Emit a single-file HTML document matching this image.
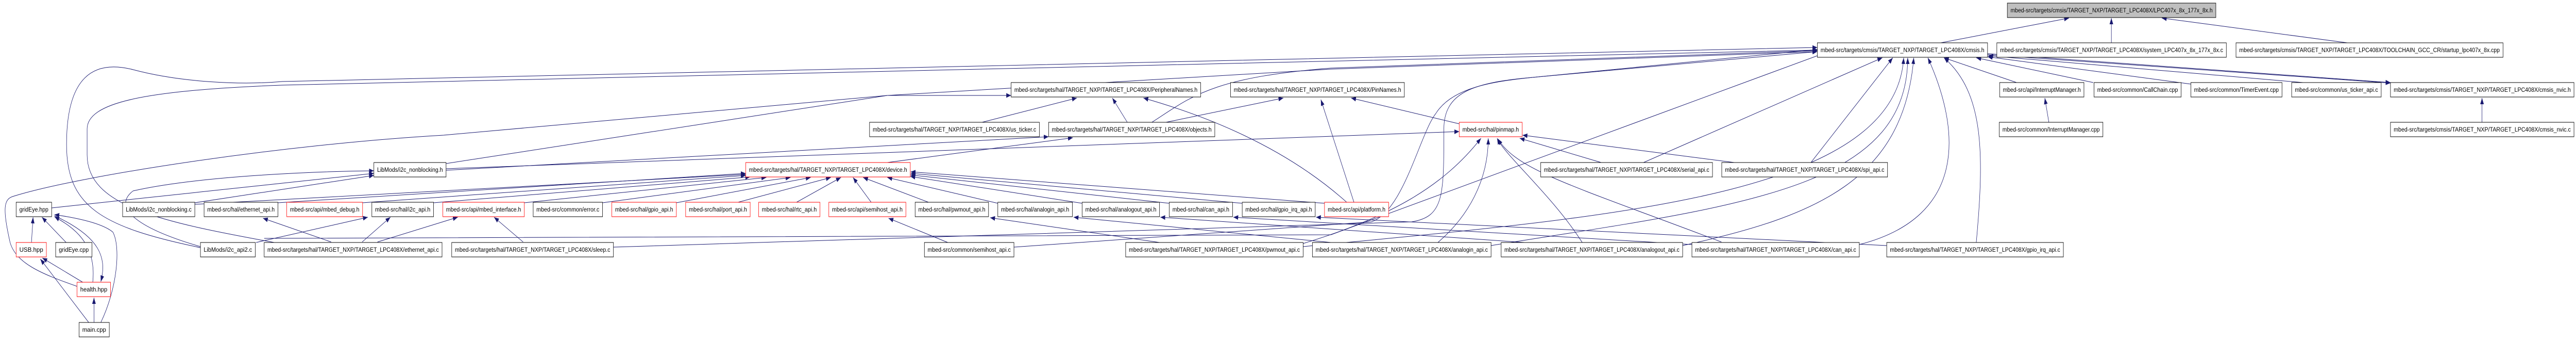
<!DOCTYPE html>
<html><head><meta charset="utf-8"><meta name="viewport" content="width=6387"><style>
html,body{margin:0;padding:0;background:#fff;width:100vw;height:100vh;overflow:hidden;}
svg{display:block;position:absolute;left:0;top:0;width:100vw;height:100vh;}
text{font-family:"Liberation Sans",Arial,sans-serif;font-size:12px;fill:#000;}
.n{fill:#fff;stroke:#000;stroke-width:1;}
.r{fill:#fff;stroke:#ff0000;stroke-width:1;}
.g{fill:#bfbfbf;stroke:#000;stroke-width:1;}
.e{fill:none;stroke:#191970;stroke-width:1;marker-end:url(#a);}
</style></head><body>
<svg viewBox="0 0 6387 659" preserveAspectRatio="none" xmlns="http://www.w3.org/2000/svg" overflow="hidden">
<defs><marker id="a" viewBox="0 0 12 10" refX="12" refY="5" markerWidth="12" markerHeight="10" markerUnits="userSpaceOnUse" orient="auto"><path d="M0,0.5 L12,5 L0,9.5z" fill="#191970"/></marker></defs>
<path class="e" d="M4812,83 L5130,35"/>
<path class="e" d="M5235,83 L5235,35"/>
<path class="e" d="M5820,83 L5360,35"/>
<path class="e" d="M4928,104 L5927,160"/>
<path class="e" d="M4928,106 L5927,161"/>
<path class="e" d="M5000,160 L4820,112"/>
<path class="e" d="M5190,160 L4900,112"/>
<path class="e" d="M5432,163 L4928,110"/>
<path class="e" d="M5710,160 L4930,108"/>
<path class="e" d="M5080,237 L5070,190"/>
<path class="e" d="M6154,237 L6154,190"/>
<path class="e" d="M4490,315 L4693,112"/>
<path class="e" d="M4075,315 L4667,112"/>
<path class="e" d="M4900,470 C4920,300 4920,180 4820,112"/>
<path class="e" d="M4610,474 C4880,420 4860,250 4780,112"/>
<path class="e" d="M4172,476 C4500,420 4720,350 4745,112"/>
<path class="e" d="M3697,476 C4300,400 4730,370 4730,112"/>
<path class="e" d="M3231,478 C4000,420 4700,380 4720,112"/>
<path class="e" d="M497,480 C250,440 165,400 165,280 C165,150 230,115 330,135 C450,160 600,165 700,158 L4506,92"/>
<path class="e" d="M680,470 C400,430 216,400 216,300 L216,250 C216,200 350,175 700,165 L4506,97"/>
<path class="e" d="M191,555 C100,530 40,510 25,470 C5,400 10,385 35,380 C200,340 700,280 1100,262 L2200,185 L2507,185"/>
<path class="e" d="M128,403 L927,336"/>
<path class="e" d="M483,393 L927,340"/>
<path class="e" d="M497,478 C330,440 280,400 330,370 C500,340 800,332 927,331"/>
<path class="e" d="M1106,317 L2200,185 L3300,134 L4506,100"/>
<path class="e" d="M1106,327 L3618,255"/>
<path class="e" d="M1106,330 L2600,265"/>
<path class="e" d="M483,396 L1849,338"/>
<path class="e" d="M689,393 L1849,336"/>
<path class="e" d="M899,393 L1849,340"/>
<path class="e" d="M1075,393 L1860,343"/>
<path class="e" d="M1300,393 L1900,344"/>
<path class="e" d="M1494,393 L1960,344"/>
<path class="e" d="M1677,393 L2010,344"/>
<path class="e" d="M1830,392 L2060,344"/>
<path class="e" d="M1975,392 L2085,344"/>
<path class="e" d="M2160,392 L2115,344"/>
<path class="e" d="M2302,392 L2140,344"/>
<path class="e" d="M2474,394 L2200,344"/>
<path class="e" d="M2683,394 L2257,342"/>
<path class="e" d="M2899,394 L2257,339"/>
<path class="e" d="M3080,394 L2258,336"/>
<path class="e" d="M3284,394 L2258,333"/>
<path class="e" d="M2200,315 L2660,267"/>
<path class="e" d="M2795,237 L2758,190"/>
<path class="e" d="M2891,237 L3182,190"/>
<path class="e" d="M2856,237 C2950,190 3000,150 3300,132 L4506,98"/>
<path class="e" d="M2435,237 L2670,190"/>
<path class="e" d="M3618,240 L3350,190"/>
<path class="e" d="M3339,392 Q3150,260 2835,190"/>
<path class="e" d="M3357,392 L3275,193"/>
<path class="e" d="M3970,315 L3768,268"/>
<path class="e" d="M4300,315 L3775,262"/>
<path class="e" d="M3565,470 C3640,420 3690,350 3690,268"/>
<path class="e" d="M3923,470 C3850,380 3730,300 3712,268"/>
<path class="e" d="M4268,469 C3900,360 3760,330 3714,269"/>
<path class="e" d="M3231,472 C3450,420 3580,360 3672,268"/>
<path class="e" d="M1521,479 L3500,430 C3580,420 3580,380 3580,250 C3580,180 3650,160 3800,150 L4506,100"/>
<path class="e" d="M2514,479 L3400,430 C3480,410 3520,260 3560,220 C3600,170 3700,158 3800,150 L4506,96"/>
<path class="e" d="M2350,470 L2203,423"/>
<path class="e" d="M898,469 L968,421"/>
<path class="e" d="M821,469 L652,423"/>
<path class="e" d="M936,469 L1135,421"/>
<path class="e" d="M635,470 L912,421"/>
<path class="e" d="M1297,469 L1225,421"/>
<path class="e" d="M164,470 L104,421"/>
<path class="e" d="M78,470 L82,421"/>
<path class="e" d="M230,547 C240,470 180,440 135,420"/>
<path class="e" d="M135,418 C250,460 265,500 250,546"/>
<path class="e" d="M250,625 C290,560 300,480 280,450 C250,430 170,420 135,416"/>
<path class="e" d="M205,547 L105,500"/>
<path class="e" d="M220,625 L100,502"/>
<path class="e" d="M233,625 L233,577"/>
<path class="e" d="M2875,470 L2455,422"/>
<path class="e" d="M3300,470 L2662,421"/>
<path class="e" d="M3780,470 L2877,421"/>
<path class="e" d="M4195,474 L3058,421"/>
<path class="e" d="M4678,476 L3263,421"/>
<path class="e" d="M655,462 L3300,455 L4506,108" style="marker-end:none"/>
<rect class="g" x="4977" y="6" width="517" height="28"/><text x="4985" y="24" textLength="501" lengthAdjust="spacingAndGlyphs">mbed-src/targets/cmsis/TARGET_NXP/TARGET_LPC408X/LPC407x_8x_177x_8x.h</text>
<rect class="n" x="4506" y="83" width="422" height="28"/><text x="4514" y="101" textLength="406" lengthAdjust="spacingAndGlyphs">mbed-src/targets/cmsis/TARGET_NXP/TARGET_LPC408X/cmsis.h</text>
<rect class="n" x="4951" y="83" width="569" height="28"/><text x="4959" y="101" textLength="553" lengthAdjust="spacingAndGlyphs">mbed-src/targets/cmsis/TARGET_NXP/TARGET_LPC408X/system_LPC407x_8x_177x_8x.c</text>
<rect class="n" x="5544" y="83" width="662" height="28"/><text x="5552" y="101" textLength="646" lengthAdjust="spacingAndGlyphs">mbed-src/targets/cmsis/TARGET_NXP/TARGET_LPC408X/TOOLCHAIN_GCC_CR/startup_lpc407x_8x.cpp</text>
<rect class="n" x="2507" y="160" width="470" height="28"/><text x="2515" y="178" textLength="454" lengthAdjust="spacingAndGlyphs">mbed-src/targets/hal/TARGET_NXP/TARGET_LPC408X/PeripheralNames.h</text>
<rect class="n" x="3051" y="160" width="431" height="28"/><text x="3059" y="178" textLength="415" lengthAdjust="spacingAndGlyphs">mbed-src/targets/hal/TARGET_NXP/TARGET_LPC408X/PinNames.h</text>
<rect class="n" x="4958" y="160" width="209" height="28"/><text x="4966" y="178" textLength="193" lengthAdjust="spacingAndGlyphs">mbed-src/api/InterruptManager.h</text>
<rect class="n" x="5192" y="160" width="216" height="28"/><text x="5200" y="178" textLength="200" lengthAdjust="spacingAndGlyphs">mbed-src/common/CallChain.cpp</text>
<rect class="n" x="5432" y="160" width="226" height="28"/><text x="5440" y="178" textLength="210" lengthAdjust="spacingAndGlyphs">mbed-src/common/TimerEvent.cpp</text>
<rect class="n" x="5682" y="160" width="222" height="28"/><text x="5690" y="178" textLength="206" lengthAdjust="spacingAndGlyphs">mbed-src/common/us_ticker_api.c</text>
<rect class="n" x="5927" y="160" width="455" height="28"/><text x="5935" y="178" textLength="439" lengthAdjust="spacingAndGlyphs">mbed-src/targets/cmsis/TARGET_NXP/TARGET_LPC408X/cmsis_nvic.h</text>
<rect class="n" x="2156" y="237" width="421" height="28"/><text x="2164" y="255" textLength="405" lengthAdjust="spacingAndGlyphs">mbed-src/targets/hal/TARGET_NXP/TARGET_LPC408X/us_ticker.c</text>
<rect class="n" x="2600" y="237" width="412" height="28"/><text x="2608" y="255" textLength="396" lengthAdjust="spacingAndGlyphs">mbed-src/targets/hal/TARGET_NXP/TARGET_LPC408X/objects.h</text>
<rect class="r" x="3618" y="237" width="156" height="28"/><text x="3626" y="255" textLength="140" lengthAdjust="spacingAndGlyphs">mbed-src/hal/pinmap.h</text>
<rect class="n" x="4957" y="237" width="257" height="28"/><text x="4965" y="255" textLength="241" lengthAdjust="spacingAndGlyphs">mbed-src/common/InterruptManager.cpp</text>
<rect class="n" x="5927" y="237" width="455" height="28"/><text x="5935" y="255" textLength="439" lengthAdjust="spacingAndGlyphs">mbed-src/targets/cmsis/TARGET_NXP/TARGET_LPC408X/cmsis_nvic.c</text>
<rect class="n" x="927" y="315" width="179" height="28"/><text x="935" y="333" textLength="163" lengthAdjust="spacingAndGlyphs">LibMods/i2c_nonblocking.h</text>
<rect class="r" x="1849" y="315" width="408" height="28"/><text x="1857" y="333" textLength="392" lengthAdjust="spacingAndGlyphs">mbed-src/targets/hal/TARGET_NXP/TARGET_LPC408X/device.h</text>
<rect class="n" x="3820" y="315" width="426" height="28"/><text x="3828" y="333" textLength="410" lengthAdjust="spacingAndGlyphs">mbed-src/targets/hal/TARGET_NXP/TARGET_LPC408X/serial_api.c</text>
<rect class="n" x="4269" y="315" width="411" height="28"/><text x="4277" y="333" textLength="395" lengthAdjust="spacingAndGlyphs">mbed-src/targets/hal/TARGET_NXP/TARGET_LPC408X/spi_api.c</text>
<rect class="n" x="40" y="392" width="88" height="28"/><text x="48" y="410" textLength="72" lengthAdjust="spacingAndGlyphs">gridEye.hpp</text>
<rect class="n" x="304" y="392" width="179" height="28"/><text x="312" y="410" textLength="163" lengthAdjust="spacingAndGlyphs">LibMods/i2c_nonblocking.c</text>
<rect class="n" x="506" y="392" width="183" height="28"/><text x="514" y="410" textLength="167" lengthAdjust="spacingAndGlyphs">mbed-src/hal/ethernet_api.h</text>
<rect class="r" x="711" y="392" width="188" height="28"/><text x="719" y="410" textLength="172" lengthAdjust="spacingAndGlyphs">mbed-src/api/mbed_debug.h</text>
<rect class="n" x="922" y="392" width="153" height="28"/><text x="930" y="410" textLength="137" lengthAdjust="spacingAndGlyphs">mbed-src/hal/i2c_api.h</text>
<rect class="r" x="1098" y="392" width="202" height="28"/><text x="1106" y="410" textLength="186" lengthAdjust="spacingAndGlyphs">mbed-src/api/mbed_interface.h</text>
<rect class="n" x="1322" y="392" width="172" height="28"/><text x="1330" y="410" textLength="156" lengthAdjust="spacingAndGlyphs">mbed-src/common/error.c</text>
<rect class="r" x="1517" y="392" width="160" height="28"/><text x="1525" y="410" textLength="144" lengthAdjust="spacingAndGlyphs">mbed-src/hal/gpio_api.h</text>
<rect class="r" x="1700" y="392" width="160" height="28"/><text x="1708" y="410" textLength="144" lengthAdjust="spacingAndGlyphs">mbed-src/hal/port_api.h</text>
<rect class="r" x="1881" y="392" width="152" height="28"/><text x="1889" y="410" textLength="136" lengthAdjust="spacingAndGlyphs">mbed-src/hal/rtc_api.h</text>
<rect class="r" x="2055" y="392" width="191" height="28"/><text x="2063" y="410" textLength="175" lengthAdjust="spacingAndGlyphs">mbed-src/api/semihost_api.h</text>
<rect class="n" x="2269" y="392" width="182" height="28"/><text x="2277" y="410" textLength="166" lengthAdjust="spacingAndGlyphs">mbed-src/hal/pwmout_api.h</text>
<rect class="n" x="2474" y="392" width="185" height="28"/><text x="2482" y="410" textLength="169" lengthAdjust="spacingAndGlyphs">mbed-src/hal/analogin_api.h</text>
<rect class="n" x="2683" y="392" width="192" height="28"/><text x="2691" y="410" textLength="176" lengthAdjust="spacingAndGlyphs">mbed-src/hal/analogout_api.h</text>
<rect class="n" x="2899" y="392" width="157" height="28"/><text x="2907" y="410" textLength="141" lengthAdjust="spacingAndGlyphs">mbed-src/hal/can_api.h</text>
<rect class="n" x="3080" y="392" width="181" height="28"/><text x="3088" y="410" textLength="165" lengthAdjust="spacingAndGlyphs">mbed-src/hal/gpio_irq_api.h</text>
<rect class="r" x="3284" y="392" width="159" height="28"/><text x="3292" y="410" textLength="143" lengthAdjust="spacingAndGlyphs">mbed-src/api/platform.h</text>
<rect class="r" x="40" y="470" width="75" height="28"/><text x="48" y="488" textLength="59" lengthAdjust="spacingAndGlyphs">USB.hpp</text>
<rect class="n" x="138" y="470" width="90" height="28"/><text x="146" y="488" textLength="74" lengthAdjust="spacingAndGlyphs">gridEye.cpp</text>
<rect class="n" x="497" y="470" width="136" height="28"/><text x="505" y="488" textLength="120" lengthAdjust="spacingAndGlyphs">LibMods/i2c_api2.c</text>
<rect class="n" x="655" y="470" width="441" height="28"/><text x="663" y="488" textLength="425" lengthAdjust="spacingAndGlyphs">mbed-src/targets/hal/TARGET_NXP/TARGET_LPC408X/ethernet_api.c</text>
<rect class="n" x="1120" y="470" width="401" height="28"/><text x="1128" y="488" textLength="385" lengthAdjust="spacingAndGlyphs">mbed-src/targets/hal/TARGET_NXP/TARGET_LPC408X/sleep.c</text>
<rect class="n" x="2292" y="470" width="222" height="28"/><text x="2300" y="488" textLength="206" lengthAdjust="spacingAndGlyphs">mbed-src/common/semihost_api.c</text>
<rect class="n" x="2791" y="470" width="440" height="28"/><text x="2799" y="488" textLength="424" lengthAdjust="spacingAndGlyphs">mbed-src/targets/hal/TARGET_NXP/TARGET_LPC408X/pwmout_api.c</text>
<rect class="n" x="3254" y="470" width="443" height="28"/><text x="3262" y="488" textLength="427" lengthAdjust="spacingAndGlyphs">mbed-src/targets/hal/TARGET_NXP/TARGET_LPC408X/analogin_api.c</text>
<rect class="n" x="3722" y="470" width="450" height="28"/><text x="3730" y="488" textLength="434" lengthAdjust="spacingAndGlyphs">mbed-src/targets/hal/TARGET_NXP/TARGET_LPC408X/analogout_api.c</text>
<rect class="n" x="4195" y="470" width="415" height="28"/><text x="4203" y="488" textLength="399" lengthAdjust="spacingAndGlyphs">mbed-src/targets/hal/TARGET_NXP/TARGET_LPC408X/can_api.c</text>
<rect class="n" x="4678" y="470" width="438" height="28"/><text x="4686" y="488" textLength="422" lengthAdjust="spacingAndGlyphs">mbed-src/targets/hal/TARGET_NXP/TARGET_LPC408X/gpio_irq_api.c</text>
<rect class="r" x="191" y="547" width="83" height="28"/><text x="199" y="565" textLength="67" lengthAdjust="spacingAndGlyphs">health.hpp</text>
<rect class="n" x="196" y="625" width="75" height="28"/><text x="204" y="643" textLength="59" lengthAdjust="spacingAndGlyphs">main.cpp</text>
</svg>
</body></html>
